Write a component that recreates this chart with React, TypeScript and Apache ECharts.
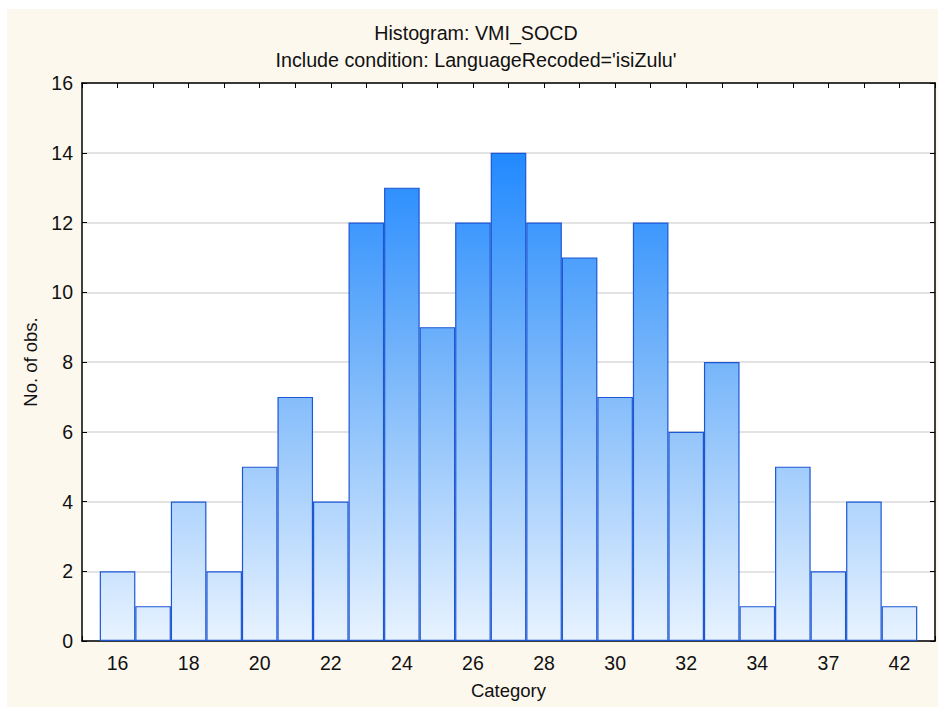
import React, { useEffect, useRef } from "react";
import * as echarts from "echarts";

const categories = [
  "16", "17", "18", "19", "20", "21", "22", "23", "24", "25", "26", "27",
  "28", "29", "30", "31", "32", "33", "34", "35", "37", "39", "42",
];
const counts = [2, 1, 4, 2, 5, 7, 4, 12, 13, 9, 12, 14, 12, 11, 7, 12, 6, 8, 1, 5, 2, 4, 1];
const yTicks = [0, 2, 4, 6, 8, 10, 12, 14, 16];

const FONT = "Liberation Sans, Arial, Helvetica, sans-serif";

export default function App() {
  const ref = useRef<HTMLDivElement>(null);

  useEffect(() => {
    document.body.style.margin = "0";
    if (!ref.current) return;
    const chart = echarts.init(ref.current, null, { renderer: "svg" });

    const gridTop = 83;
    const gridBottomPx = 641;
    const fill = new echarts.graphic.LinearGradient(
      0, gridTop, 0, gridBottomPx,
      [
        { offset: 0, color: "#1580FF" },
        { offset: 0.125, color: "#2189FF" },
        { offset: 0.5, color: "#76B5FA" },
        { offset: 1, color: "#E8F3FF" },
      ],
      true
    );

    const xLabel = (v: number) => {
      if (v < 0 || v >= categories.length || v % 2 !== 0) return "";
      return categories[v];
    };

    const tickCommon = { show: true, inside: true, length: 5, lineStyle: { color: "#000" } };
    const lineCommon = { show: true, onZero: false, lineStyle: { color: "#000", width: 1.5 } };

    chart.setOption({
      animation: false,
      backgroundColor: "#ffffff",
      textStyle: { fontFamily: FONT },
      graphic: [
        {
          type: "rect",
          z: -10,
          silent: true,
          shape: { x: 7, y: 9, width: 931, height: 698 },
          style: { fill: "#FDF8EE" },
        },
      ],
      title: {
        text: "Histogram: VMI_SOCD\nInclude condition: LanguageRecoded='isiZulu'",
        left: 476,
        top: 19,
        padding: 0,
        textAlign: "center",
        textStyle: {
          fontFamily: FONT,
          fontSize: 19.7,
          fontWeight: "normal",
          color: "#111",
          lineHeight: 27,
        },
      },
      grid: {
        left: 82,
        top: gridTop,
        right: 2,
        bottom: 707 - gridBottomPx,
        show: true,
        backgroundColor: "#ffffff",
        borderWidth: 0,
      },
      xAxis: [
        {
          type: "value",
          min: -1,
          max: categories.length,
          interval: 1,
          position: "bottom",
          name: "Category",
          nameLocation: "middle",
          nameGap: 40,
          nameTextStyle: { fontFamily: FONT, fontSize: 18.5, color: "#111" },
          axisLine: lineCommon,
          axisTick: tickCommon,
          splitLine: { show: false },
          axisLabel: {
            formatter: xLabel,
            fontFamily: FONT,
            fontSize: 19.5,
            color: "#111",
            margin: 12,
            showMinLabel: true,
            showMaxLabel: true,
          },
        },
        {
          type: "value",
          min: -1,
          max: categories.length,
          interval: 1,
          position: "top",
          axisLine: lineCommon,
          axisTick: tickCommon,
          splitLine: { show: false },
          axisLabel: { show: false },
        },
      ],
      yAxis: [
        {
          type: "value",
          min: yTicks[0],
          max: yTicks[yTicks.length - 1],
          interval: yTicks[1] - yTicks[0],
          position: "left",
          name: "No. of obs.",
          nameLocation: "middle",
          nameGap: 40,
          nameTextStyle: { fontFamily: FONT, fontSize: 18.5, color: "#111" },
          axisLine: lineCommon,
          axisTick: tickCommon,
          splitLine: { show: true, lineStyle: { color: "#DADADA", width: 1.5 } },
          axisLabel: { fontFamily: FONT, fontSize: 19.5, color: "#111", margin: 9 },
        },
        {
          type: "value",
          min: yTicks[0],
          max: yTicks[yTicks.length - 1],
          interval: yTicks[1] - yTicks[0],
          position: "right",
          axisLine: lineCommon,
          axisTick: tickCommon,
          splitLine: { show: false },
          axisLabel: { show: false },
        },
      ],
      series: [
        {
          type: "bar",
          xAxisIndex: 0,
          yAxisIndex: 0,
          barWidth: 35.6,
          data: counts.map((c, i) => [i, c]),
          itemStyle: {
            color: fill,
            borderColor: "#1D57D4",
            borderWidth: 1.2,
          },
        },
      ],
    });

    return () => chart.dispose();
  }, []);

  return <div ref={ref} style={{ width: 938, height: 707 }} />;
}
